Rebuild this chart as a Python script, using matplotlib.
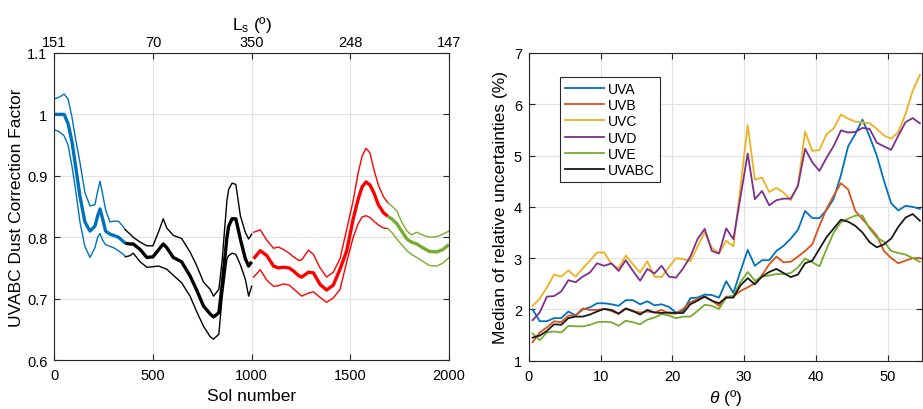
import matplotlib
matplotlib.use("Agg")
import matplotlib.pyplot as plt

plt.rcParams['font.family'] = ['Liberation Sans', 'DejaVu Sans']
plt.rcParams['mathtext.fontset'] = 'custom'
plt.rcParams['mathtext.rm'] = 'Liberation Sans'
plt.rcParams['mathtext.it'] = 'Liberation Sans:italic'

# ---------------- Left panel data ----------------
blue_sol = [0, 25, 50, 70, 90, 105, 130, 155, 181, 206, 220, 232, 245, 260, 282, 300, 325, 350, 360]
blue_mid = [1.0, 1.0, 1.0, 0.985, 0.955, 0.922, 0.867, 0.825, 0.81, 0.818, 0.835, 0.846, 0.83, 0.81, 0.805, 0.803, 0.8, 0.793, 0.79]
blue_up = [1.025, 1.028, 1.033, 1.025, 0.995, 0.965, 0.922, 0.873, 0.851, 0.853, 0.875, 0.891, 0.87, 0.845, 0.825, 0.826, 0.826, 0.817, 0.812]
blue_lo = [0.975, 0.972, 0.965, 0.95, 0.915, 0.884, 0.825, 0.785, 0.767, 0.783, 0.8, 0.806, 0.795, 0.788, 0.785, 0.783, 0.778, 0.772, 0.769]

black_sol = [360, 384, 400, 435, 469, 500, 530, 552, 570, 603, 645, 688, 720, 756, 790, 807, 834, 850, 875, 884, 901, 920, 943, 968, 985, 1000]
black_mid = [0.79, 0.789, 0.789, 0.78, 0.767, 0.768, 0.78, 0.789, 0.783, 0.767, 0.76, 0.737, 0.715, 0.688, 0.675, 0.67, 0.677, 0.72, 0.8, 0.818, 0.83, 0.83, 0.797, 0.765, 0.753, 0.76]
black_up = [0.812, 0.805, 0.8, 0.792, 0.786, 0.786, 0.81, 0.83, 0.815, 0.803, 0.798, 0.776, 0.755, 0.727, 0.715, 0.704, 0.715, 0.76, 0.86, 0.878, 0.888, 0.886, 0.835, 0.808, 0.797, 0.805]
black_lo = [0.768, 0.77, 0.774, 0.76, 0.751, 0.752, 0.753, 0.75, 0.748, 0.738, 0.726, 0.704, 0.68, 0.655, 0.638, 0.634, 0.642, 0.7, 0.765, 0.77, 0.774, 0.772, 0.755, 0.732, 0.704, 0.72]

red_sol = [1010, 1044, 1077, 1111, 1136, 1161, 1190, 1212, 1240, 1254, 1288, 1313, 1347, 1380, 1414, 1448, 1482, 1515, 1540, 1560, 1580, 1600, 1620, 1642, 1668, 1690]
red_mid = [0.765, 0.778, 0.77, 0.753, 0.75, 0.751, 0.75, 0.745, 0.737, 0.735, 0.743, 0.742, 0.723, 0.714, 0.722, 0.748, 0.778, 0.83, 0.862, 0.882, 0.89, 0.885, 0.872, 0.853, 0.84, 0.834]
red_up = [0.808, 0.812, 0.795, 0.782, 0.784, 0.78, 0.774, 0.768, 0.762, 0.763, 0.779, 0.772, 0.75, 0.735, 0.743, 0.765, 0.813, 0.86, 0.905, 0.932, 0.945, 0.937, 0.91, 0.885, 0.866, 0.856]
red_lo = [0.735, 0.747, 0.73, 0.72, 0.721, 0.724, 0.722, 0.716, 0.708, 0.704, 0.709, 0.711, 0.702, 0.694, 0.701, 0.715, 0.76, 0.8, 0.822, 0.833, 0.835, 0.832, 0.826, 0.82, 0.815, 0.814]

green_sol = [1690, 1710, 1736, 1760, 1787, 1810, 1837, 1871, 1900, 1939, 1970, 2000]
green_mid = [0.834, 0.83, 0.822, 0.81, 0.797, 0.792, 0.789, 0.782, 0.777, 0.776, 0.78, 0.788]
green_up = [0.856, 0.851, 0.843, 0.825, 0.81, 0.804, 0.808, 0.803, 0.8, 0.801, 0.805, 0.81]
green_lo = [0.814, 0.808, 0.797, 0.788, 0.778, 0.772, 0.767, 0.76, 0.754, 0.753, 0.758, 0.767]

sol_ticks = [0, 500, 1000, 1500, 2000]
ls_labels = ['151', '70', '350', '248', '147']
left_yticks = [0.6, 0.7, 0.8, 0.9, 1.0, 1.1]
left_ylabels = ['0.6', '0.7', '0.8', '0.9', '1', '1.1']

# ---------------- Right panel data ----------------
theta = [i + 0.5 for i in range(55)]
uva = [2.0, 1.77, 1.77, 1.83, 1.83, 1.96, 1.88, 2.0, 2.04, 2.12, 2.12, 2.1, 2.07, 2.18, 2.18, 2.1, 2.16, 2.08, 2.1, 2.05,
       1.94, 1.97, 2.22, 2.23, 2.29, 2.28, 2.23, 2.55, 2.32, 2.75, 3.16, 2.85, 2.96, 2.96, 3.14, 3.24, 3.38, 3.55, 3.92, 3.78,
       3.78, 3.94, 4.16, 4.62, 5.18, 5.42, 5.7, 5.37, 5.0, 4.51, 4.07, 3.93, 4.02, 4.0, 3.96]
uvb = [1.36, 1.55, 1.65, 1.77, 1.75, 1.88, 1.88, 2.02, 1.99, 1.99, 2.01, 1.97, 1.91, 2.01, 1.96, 1.94, 1.96, 1.94, 1.99, 1.92,
       1.92, 2.01, 2.14, 2.2, 2.25, 2.17, 2.07, 2.25, 2.25, 2.36, 2.43, 2.51, 2.67, 2.88, 3.03, 2.92, 2.93, 3.03, 3.14, 3.27,
       3.63, 3.96, 4.22, 4.46, 4.34, 3.92, 3.76, 3.6, 3.44, 3.14, 3.0, 2.9, 2.95, 3.0, 3.0]
uvc = [2.07, 2.21, 2.43, 2.68, 2.64, 2.76, 2.64, 2.8, 2.95, 3.11, 3.11, 2.88, 2.8, 3.05, 2.88, 2.72, 2.94, 2.64, 2.63, 2.82,
       3.0, 2.98, 2.94, 3.22, 3.5, 3.2, 3.1, 3.34, 3.23, 4.4, 5.59, 4.53, 4.57, 4.29, 4.37, 4.28, 4.13, 4.41, 5.47, 5.09,
       5.11, 5.42, 5.53, 5.8, 5.72, 5.66, 5.65, 5.63, 5.52, 5.39, 5.33, 5.46, 5.81, 6.26, 6.57]
uvd = [1.79, 1.94, 2.25, 2.26, 2.35, 2.57, 2.53, 2.64, 2.72, 2.9, 2.85, 2.9, 2.75, 2.96, 2.75, 2.56, 2.79, 2.7, 2.85, 2.64,
       2.62, 2.8, 3.03, 3.37, 3.57, 3.14, 3.09, 3.58, 3.37, 4.2, 5.04, 4.15, 4.31, 4.03, 4.13, 4.16, 4.16, 4.41, 5.13, 4.87,
       4.7, 4.96, 5.19, 5.49, 5.45, 5.46, 5.54, 5.52, 5.25, 5.18, 5.11, 5.39, 5.65, 5.73, 5.63]
uve = [1.53, 1.4, 1.55, 1.57, 1.55, 1.68, 1.67, 1.67, 1.7, 1.75, 1.76, 1.75, 1.68, 1.78, 1.75, 1.71, 1.8, 1.84, 1.91, 1.88,
       1.83, 1.86, 1.86, 1.97, 2.09, 2.07, 2.01, 2.23, 2.27, 2.53, 2.73, 2.56, 2.64, 2.66, 2.69, 2.69, 2.71, 2.82, 2.99, 2.92,
       2.84, 3.18, 3.5, 3.7, 3.77, 3.83, 3.83, 3.57, 3.4, 3.32, 3.14, 3.1, 3.07, 3.0, 2.93]
uvabc = [1.45, 1.49, 1.58, 1.71, 1.7, 1.83, 1.86, 1.86, 1.9, 1.96, 2.01, 1.99, 1.92, 2.02, 1.97, 1.9, 1.99, 1.94, 1.93, 1.94,
         1.93, 1.93, 2.1, 2.17, 2.25, 2.17, 2.12, 2.23, 2.23, 2.47, 2.61, 2.49, 2.64, 2.73, 2.79, 2.71, 2.63, 2.68, 2.9, 2.95,
         3.18, 3.41, 3.58, 3.75, 3.71, 3.63, 3.5, 3.31, 3.21, 3.27, 3.38, 3.61, 3.79, 3.86, 3.73]
series_names = ['UVA', 'UVB', 'UVC', 'UVD', 'UVE', 'UVABC']
series_vals = [uva, uvb, uvc, uvd, uve, uvabc]
series_colors = ['#0072BD', '#D95319', '#EDB120', '#7E2F8E', '#77AC30', '#1a1a1a']

# ---------------- Figure ----------------
fig = plt.figure(figsize=(9.23, 4.10), dpi=100)
axL = fig.add_axes([0.0588, 0.1195, 0.4276, 0.7488])
axR = fig.add_axes([0.5731, 0.1178, 0.4258, 0.7505])

spine_c = '#262626'
grid_c = '#e3e3e3'

def style(ax):
    for s in ax.spines.values():
        s.set_color(spine_c)
        s.set_linewidth(0.8)
    ax.tick_params(direction='in', length=4, width=0.8, colors=spine_c,
                   labelcolor='black', labelsize=10.5, top=True, right=True)
    ax.tick_params(axis='x', pad=6)
    ax.tick_params(axis='y', pad=5)
    ax.grid(True, color=grid_c, linewidth=0.9)
    ax.set_axisbelow(True)

segments = [
    (blue_sol, blue_mid, blue_up, blue_lo, '#0072BD'),
    (black_sol, black_mid, black_up, black_lo, '#000000'),
    (red_sol, red_mid, red_up, red_lo, '#FF0000'),
    (green_sol, green_mid, green_up, green_lo, '#77AC30'),
]
for s, m, u, l, c in segments:
    axL.plot(s, u, color=c, lw=1.0)
    axL.plot(s, l, color=c, lw=1.0)
    axL.plot(s, m, color=c, lw=2.4, solid_capstyle='butt')

axL.set_xlim(0, 2000)
axL.set_ylim(0.6, 1.1)
axL.set_xticks(sol_ticks)
axL.set_yticks(left_yticks)
axL.set_yticklabels(left_ylabels)
style(axL)
axL.tick_params(top=False)
axL.set_xlabel('Sol number', fontsize=12.5, labelpad=4)
axL.set_ylabel('UVABC Dust Correction Factor', fontsize=12.5, labelpad=2)

axT = axL.twiny()
axT.set_xlim(0, 2000)
axT.set_xticks(sol_ticks)
axT.set_xticklabels(ls_labels)
axT.tick_params(direction='in', length=4, width=0.8, colors=spine_c,
                labelcolor='black', labelsize=10.5, pad=3)
axT.set_xlabel('L$_{\\mathrm{s}}$ (º)', fontsize=12.5, labelpad=4)
for s in axT.spines.values():
    s.set_visible(False)

# Right panel
for name, vals, col in zip(series_names, series_vals, series_colors):
    axR.plot(theta, vals, color=col, lw=1.3, label=name)
axR.set_xlim(0, 54.8)
axR.set_ylim(1, 7)
axR.set_xticks([0, 10, 20, 30, 40, 50])
axR.set_yticks([1, 2, 3, 4, 5, 6, 7])
style(axR)
axR.set_xlabel('$\\theta$ (º)', fontsize=12.5, labelpad=3)
axR.set_ylabel('Median of relative uncertainties (%)', fontsize=12.5, labelpad=4)
leg = axR.legend(loc='upper left', bbox_to_anchor=(0.079, 0.922), fontsize=10,
                 handlelength=2.8, handletextpad=0.3, labelspacing=0.16,
                 borderpad=0.35, borderaxespad=0, fancybox=False, framealpha=1)
leg.get_frame().set_edgecolor(spine_c)
leg.get_frame().set_linewidth(0.8)

fig.savefig('out.png', dpi=100)
